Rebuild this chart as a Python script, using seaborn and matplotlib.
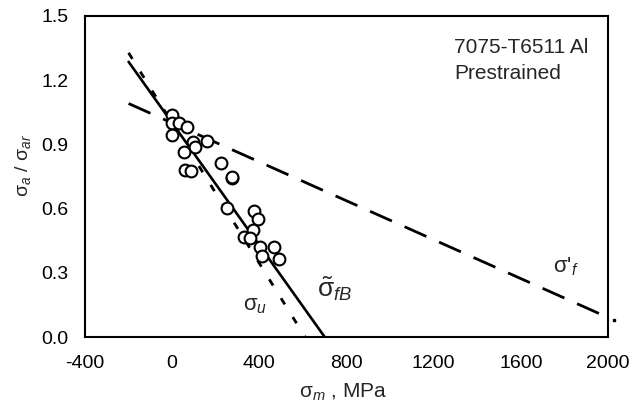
import matplotlib
matplotlib.use("Agg")
import matplotlib.pyplot as plt
import seaborn as sns
import pandas as pd
import numpy as np
from matplotlib.ticker import FormatStrFormatter

# ---- data ----
mean_stress = [0, 0, 33, 69, 0, 97, 161, 105, 53, 224, 59, 85, 276, 273,
               253, 375, 392, 372, 331, 357, 403, 468, 413, 491]
amp_ratio = [1.037, 0.999, 1.0, 0.98, 0.944, 0.913, 0.916, 0.889, 0.866, 0.814,
             0.78, 0.776, 0.744, 0.749, 0.601, 0.59, 0.55, 0.50, 0.469, 0.461,
             0.422, 0.419, 0.379, 0.363]

# line end points (sigma_m, sigma_a/sigma_ar)
fB_x = [-200, 700]
fB_y = [1.286, 0.0]
u_x = [-200, 610]
u_y = [1.328, 0.0]
f_x = [-200, 1965]
f_y = [1.091, 0.107]
stray_x = [2028]
stray_y = [0.08]

xticks = [-400, 0, 400, 800, 1200, 1600, 2000]
yticks = [0.0, 0.3, 0.6, 0.9, 1.2, 1.5]

sns.set_style("white")
plt.rcParams['font.family'] = ['Liberation Sans', 'DejaVu Sans']
plt.rcParams['mathtext.fontset'] = 'custom'
plt.rcParams['mathtext.rm'] = 'Liberation Sans'
plt.rcParams['mathtext.it'] = 'Liberation Sans:italic'
plt.rcParams['mathtext.default'] = 'regular'
plt.rcParams['axes.unicode_minus'] = False

fig = plt.figure(figsize=(6.36, 4.16), dpi=100)
ax = fig.add_axes([85 / 636, (416 - 337) / 416, 523 / 636, 321 / 416])

lines = pd.DataFrame({
    'x': fB_x + u_x + f_x,
    'y': fB_y + u_y + f_y,
    'line': ['fB'] * 2 + ['u'] * 2 + ['f'] * 2,
})

sns.lineplot(data=lines[lines.line == 'fB'], x='x', y='y', ax=ax, color='black',
             lw=1.9, sort=False, estimator=None)
sns.lineplot(data=lines[lines.line == 'u'], x='x', y='y', ax=ax, color='black',
             lw=2.0, sort=False, estimator=None, linestyle=(0, (2.6, 5.4)))
sns.lineplot(data=lines[lines.line == 'f'], x='x', y='y', ax=ax, color='black',
             lw=2.0, sort=False, estimator=None, linestyle=(0, (8.6, 5.0)))

pts = pd.DataFrame({'x': mean_stress, 'y': amp_ratio})
sns.scatterplot(data=pts, x='x', y='y', ax=ax, s=72, facecolor='white',
                edgecolor='black', linewidth=1.5, zorder=5)

ax.plot(stray_x, stray_y, marker='s', ms=2, color='black', lw=0, clip_on=False)

ax.set_xlim(-400, 2000)
ax.set_ylim(0, 1.5)
ax.set_xticks(xticks)
ax.set_yticks(yticks)
ax.yaxis.set_major_formatter(FormatStrFormatter('%.1f'))
ax.tick_params(axis='both', direction='in', length=5, width=1.1, labelsize=14,
               colors='black')
ax.tick_params(axis='x', pad=13)
ax.tick_params(axis='y', pad=12)
for sp in ax.spines.values():
    sp.set_linewidth(1.5)
    sp.set_color('black')

ax.set_xlabel(r'$\sigma_{\mathit{m}}$ , MPa', fontsize=15)
ax.set_ylabel(r'$\sigma_{\mathit{a}}$ / $\sigma_{\mathit{ar}}$', fontsize=14)
ax.xaxis.set_label_coords(0.493, -0.14)
ax.yaxis.set_label_coords(-0.10, 0.536)

ax.text(1293, 1.326, '7075-T6511 Al', fontsize=15, va='baseline', ha='left')
ax.text(1293, 1.204, 'Prestrained', fontsize=15, va='baseline', ha='left')
ax.text(325, 0.126, r'$\sigma_{\mathit{u}}$', fontsize=16, va='baseline', ha='left')
ax.text(665, 0.19, r'$\tilde{\sigma}_{\mathit{fB}}$', fontsize=19, va='baseline', ha='left')
ax.text(1748, 0.30, r"$\sigma$'$_{\mathit{f}}$", fontsize=16, va='baseline', ha='left')

fig.savefig('out.png', dpi=100)
